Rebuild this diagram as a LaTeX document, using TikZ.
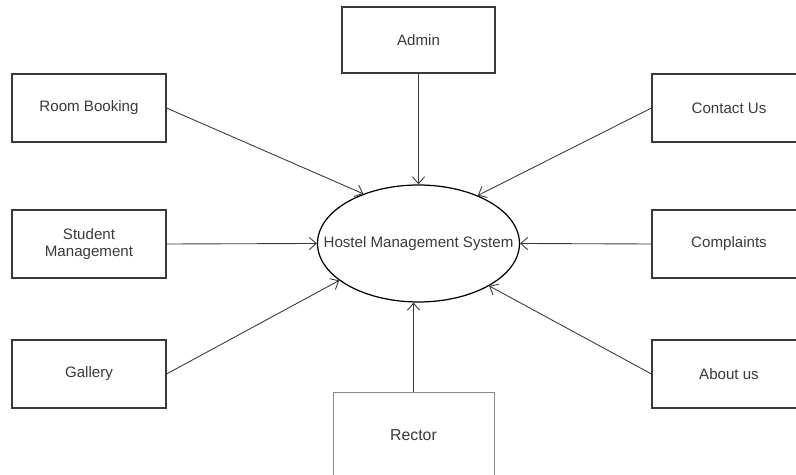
\documentclass[tikz,border=0pt]{standalone}
\usepackage{fontspec}
\setmainfont{Liberation Sans}
\usetikzlibrary{shapes.geometric,arrows.meta}
\definecolor{linegray}{HTML}{3A3A3A}
\definecolor{lightline}{HTML}{8A8A8A}

\begin{document}
\begin{tikzpicture}[x=0.02cm,y=-0.02cm,
	box/.style={draw=linegray,line width=0.6pt,minimum width=3.08cm,minimum height=1.36cm,inner sep=0pt,font=\fontsize{8.6}{10}\selectfont,text=linegray,align=center},
	sys/.style={draw=black,line width=0.7pt,ellipse,minimum width=4.04cm,minimum height=2.34cm,inner sep=0pt,label={[font=\fontsize{8.6}{10}\selectfont,text=linegray]center:#1}},
	flow/.style={draw=linegray,line width=0.5pt,-{Straight Barb[length=4pt,width=7pt]}}]

	\useasboundingbox (0,0) rectangle (796,475);

	\node[sys={Hostel Management System}] (hms) at (418.5,243.5) {};

	\node[box,minimum width=3.06cm,minimum height=1.32cm] (adm) at (418.5,40) {Admin};
	\node[box] (rb) at (89,108) {Room Booking};
	\node[box] (sm) at (89,244) {Student\\Management};
	\node[box] (gal) at (89,374) {Gallery};
	\node[box] (cu) at (729,108) {Contact Us};
	\node[box] (cp) at (729,244) {Complaints};
	\node[box] (au) at (729,374) {About us};
	\node[box,draw=lightline,line width=0.5pt,minimum width=3.22cm,minimum height=1.72cm,font=\fontsize{9}{11}\selectfont] (rec) at (413.5,435) {Rector};

	% connectors into the system
	\draw[flow] (adm.south) -- (hms.north);
	\draw[flow] (rb.east) -- (hms.138);
	\draw[flow] (sm.east) -- (hms.west);
	\draw[flow] (gal.east) -- (hms.205);
	\draw[flow] (cu.west) -- (hms.39);
	\draw[flow] (cp.west) -- (hms.east);
	\draw[flow] (au.west) -- (hms.329);
	\draw[flow] (rec.north) -- (rec.north |- hms.south);

\end{tikzpicture}
\end{document}
